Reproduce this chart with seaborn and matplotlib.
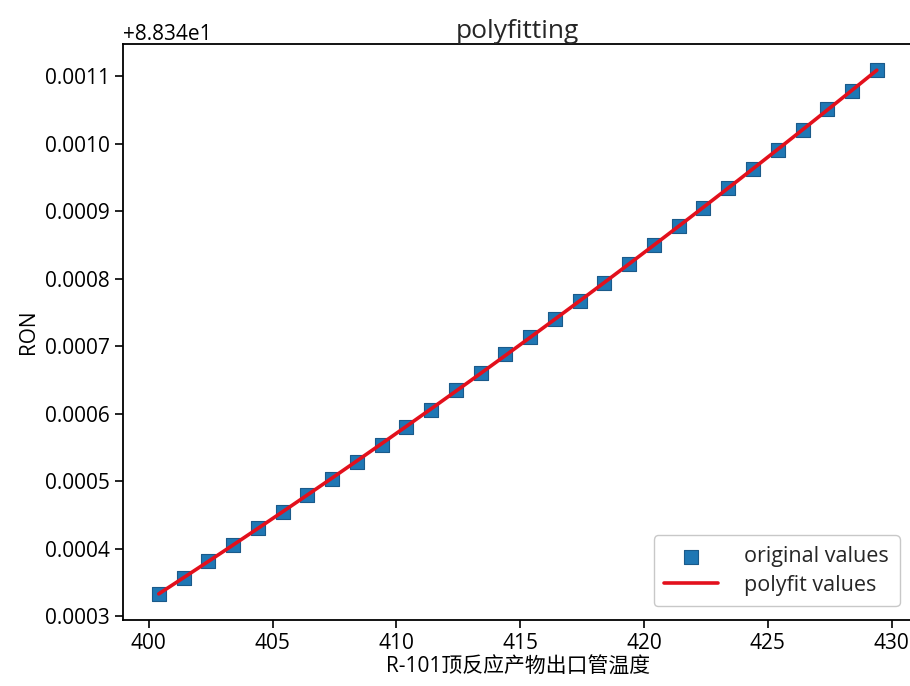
import numpy as np
import pandas as pd
import matplotlib
matplotlib.use("Agg")
import matplotlib.pyplot as plt
import seaborn as sns

# data
x_vals = [400.4, 401.4, 402.4, 403.4, 404.4, 405.4, 406.4, 407.4, 408.4, 409.4,
          410.4, 411.4, 412.4, 413.4, 414.4, 415.4, 416.4, 417.4, 418.4, 419.4,
          420.4, 421.4, 422.4, 423.4, 424.4, 425.4, 426.4, 427.4, 428.4, 429.4]
ron_offset = 88.34
ron_delta = [0.000333, 0.000356, 0.000382, 0.000406, 0.000431, 0.000455, 0.000480,
             0.000504, 0.000529, 0.000554, 0.000581, 0.000606, 0.000635, 0.000660,
             0.000688, 0.000713, 0.000740, 0.000767, 0.000794, 0.000822, 0.000850,
             0.000878, 0.000905, 0.000935, 0.000963, 0.000991, 0.001021, 0.001051,
             0.001078, 0.001109]

title = "polyfitting"
xlabel = "R-101顶反应产物出口管温度"
ylabel = "RON"
legend_labels = ["original values", "polyfit values"]

sns.set_style("ticks")
plt.rcParams['font.family'] = ['Open Sans', 'Noto Sans CJK SC', 'DejaVu Sans']

x = np.array(x_vals)
y = ron_offset + np.array(ron_delta)
coef = np.polyfit(x, y, 2)
y_fit = np.polyval(coef, x)

df = pd.DataFrame({"x": x, "y": y, "fit": y_fit})

fig = plt.figure(figsize=(9.1, 6.86), dpi=100)
ax = fig.add_axes([0.135, 0.096, 0.868, 0.840])

sns.scatterplot(data=df, x="x", y="y", marker="s", s=95, color="#1f77b4",
                edgecolor="#1a5a8a", linewidth=0.8, label=legend_labels[0], ax=ax, zorder=2)
sns.lineplot(data=df, x="x", y="fit", color="#e3101c", linewidth=2.6,
             label=legend_labels[1], ax=ax, zorder=3)

for s in ax.spines.values():
    s.set_visible(True)
    s.set_color("black")
    s.set_linewidth(1.3)

ax.set_xticks([400, 405, 410, 415, 420, 425, 430])
ax.tick_params(axis="both", labelsize=15, length=6, width=1.2, color="black", labelcolor="black")
ax.set_title(title, fontsize=19, pad=4)
ax.set_xlabel(xlabel, fontsize=15, labelpad=2, color="black")
ax.set_ylabel(ylabel, fontsize=15, labelpad=4, color="black")
ax.yaxis.get_offset_text().set_fontsize(15)

leg = ax.legend(loc="lower right", fontsize=15.5, frameon=True, borderpad=0.5,
                handlelength=2.5, handletextpad=1.2, labelspacing=0.35,
                bbox_to_anchor=(0.997, 0.005))
leg.get_frame().set_edgecolor("#bbbbbb")

fig.savefig("out.png", dpi=100, facecolor="white")
